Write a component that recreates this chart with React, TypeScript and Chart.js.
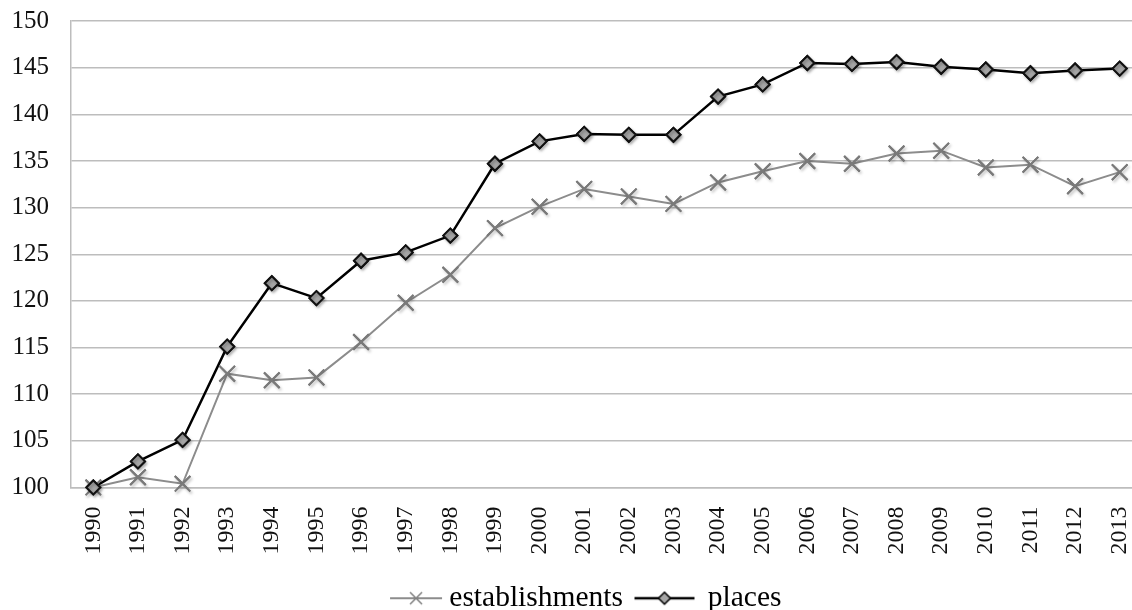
import React, { useEffect, useRef } from "react";
import { Chart, registerables } from "chart.js";

Chart.register(...registerables);

const years = ["1990","1991","1992","1993","1994","1995","1996","1997","1998","1999","2000","2001","2002","2003","2004","2005","2006","2007","2008","2009","2010","2011","2012","2013"];
const establishments = [100, 101.1, 100.4, 112.2, 111.5, 111.8, 115.6, 119.8, 122.8, 127.8, 130.1, 132.0, 131.2, 130.4, 132.7, 133.9, 135.0, 134.7, 135.8, 136.1, 134.3, 134.6, 132.3, 133.8];
const places = [100, 102.8, 105.1, 115.1, 121.9, 120.3, 124.3, 125.2, 127.0, 134.7, 137.1, 137.9, 137.8, 137.8, 141.9, 143.2, 145.5, 145.4, 145.6, 145.1, 144.8, 144.4, 144.7, 144.9];
const seriesNames = ["establishments", "places"];

const FONT = "'Liberation Serif', 'Times New Roman', serif";

const IMG_W = 130;

function makeIcon(kind: "cross" | "diamond"): HTMLCanvasElement {
  const c = document.createElement("canvas");
  c.width = IMG_W;
  c.height = 18;
  const ctx = c.getContext("2d")!;
  const cy = 9;
  if (kind === "cross") {
    const x0 = 51;
    const w = 52;
    const cx = x0 + w / 2;
    ctx.strokeStyle = "#8c8c8c";
    ctx.lineWidth = 2;
    ctx.beginPath();
    ctx.moveTo(x0, cy);
    ctx.lineTo(x0 + w, cy);
    ctx.stroke();
    ctx.strokeStyle = "#808080";
    ctx.lineWidth = 1.5;
    ctx.beginPath();
    ctx.moveTo(cx - 6, cy - 6);
    ctx.lineTo(cx + 6, cy + 6);
    ctx.moveTo(cx - 6, cy + 6);
    ctx.lineTo(cx + 6, cy - 6);
    ctx.stroke();
  } else {
    const x0 = 37;
    const w = 60;
    const cx = x0 + w / 2;
    ctx.strokeStyle = "#000";
    ctx.lineWidth = 2.5;
    ctx.beginPath();
    ctx.moveTo(x0, cy);
    ctx.lineTo(x0 + w, cy);
    ctx.stroke();
    ctx.fillStyle = "#a6a6a6";
    ctx.lineWidth = 1.5;
    ctx.beginPath();
    ctx.moveTo(cx, cy - 6);
    ctx.lineTo(cx + 6, cy);
    ctx.lineTo(cx, cy + 6);
    ctx.lineTo(cx - 6, cy);
    ctx.closePath();
    ctx.fill();
    ctx.stroke();
  }
  return c;
}

const markerShadow = {
  id: "markerShadow",
  afterDatasetsDraw(chart: any) {
    const ctx = chart.ctx;
    ctx.save();
    ctx.shadowColor = "rgba(0,0,0,0.28)";
    ctx.shadowBlur = 3;
    ctx.shadowOffsetX = 1.5;
    ctx.shadowOffsetY = 2;
    chart.data.datasets.forEach((_d: any, i: number) => {
      const meta = chart.getDatasetMeta(i);
      meta.data.forEach((pt: any) => pt.draw(ctx, chart.chartArea));
    });
    ctx.restore();
  },
};

export default function App() {
  const ref = useRef<HTMLCanvasElement>(null);
  useEffect(() => {
    if (!ref.current) return;
    const icons = [makeIcon("cross"), makeIcon("diamond")];
    const chart = new Chart(ref.current, {
      type: "line",
      data: {
        labels: years,
        datasets: [
          {
            label: seriesNames[0],
            data: establishments,
            borderColor: "#8c8c8c",
            borderWidth: 2,
            pointStyle: "crossRot",
            pointRadius: 11,
            pointBorderColor: "#7a7a7a",
            pointBorderWidth: 2,
            pointBackgroundColor: "#7a7a7a",
            tension: 0,
            fill: false,
          },
          {
            label: seriesNames[1],
            data: places,
            borderColor: "#000000",
            borderWidth: 2.5,
            pointStyle: "rectRot",
            pointRadius: 7,
            pointBorderColor: "#111111",
            pointBorderWidth: 2,
            pointBackgroundColor: "#a6a6a6",
            tension: 0,
            fill: false,
          },
        ],
      },
      plugins: [markerShadow],
      options: {
        responsive: false,
        animation: false,
        layout: { padding: { top: 21, right: 0, left: 0, bottom: -13 } },
        plugins: {
          tooltip: { enabled: false },
          legend: {
            position: "bottom",
            labels: {
              usePointStyle: true,
              pointStyleWidth: 61,
              padding: 9,
              color: "#111",
              font: { family: FONT, size: 29.5 },
              generateLabels: (ch: any) =>
                ch.data.datasets.map((d: any, i: number) => ({
                  text: d.label,
                  pointStyle: icons[i],
                  datasetIndex: i,
                  hidden: false,
                  lineWidth: 0,
                  strokeStyle: "transparent",
                  fillStyle: "transparent",
                })),
            },
          },
        },
        scales: {
          x: {
            offset: true,
            afterFit: (s: any) => {
              s.height = 87;
              s.paddingLeft = 0;
              s.paddingRight = 0;
            },
            grid: { display: false, drawTicks: false },
            border: { display: true, color: "#bdbdbd", width: 1.5 },
            ticks: {
              minRotation: 90,
              maxRotation: 90,
              autoSkip: false,
              padding: 19,
              color: "#111",
              font: { family: FONT, size: 24 },
            },
          },
          y: {
            min: 100,
            max: 150,
            afterFit: (s: any) => {
              s.width = 71;
              s.paddingTop = 0;
              s.paddingBottom = 0;
            },
            grid: { color: "#bdbdbd", lineWidth: 1.5, drawTicks: false },
            border: { display: true, color: "#bdbdbd", width: 1.5 },
            ticks: {
              stepSize: 5,
              padding: 22,
              color: "#111",
              font: { family: FONT, size: 25 },
            },
          },
        },
      },
    });
    return () => chart.destroy();
  }, []);
  return (
    <div style={{ position: "fixed", left: 0, top: 0, width: 1132, height: 610, overflow: "hidden", background: "#fff" }}>
      <canvas ref={ref} width={1155} height={610} style={{ display: "block" }} />
    </div>
  );
}
